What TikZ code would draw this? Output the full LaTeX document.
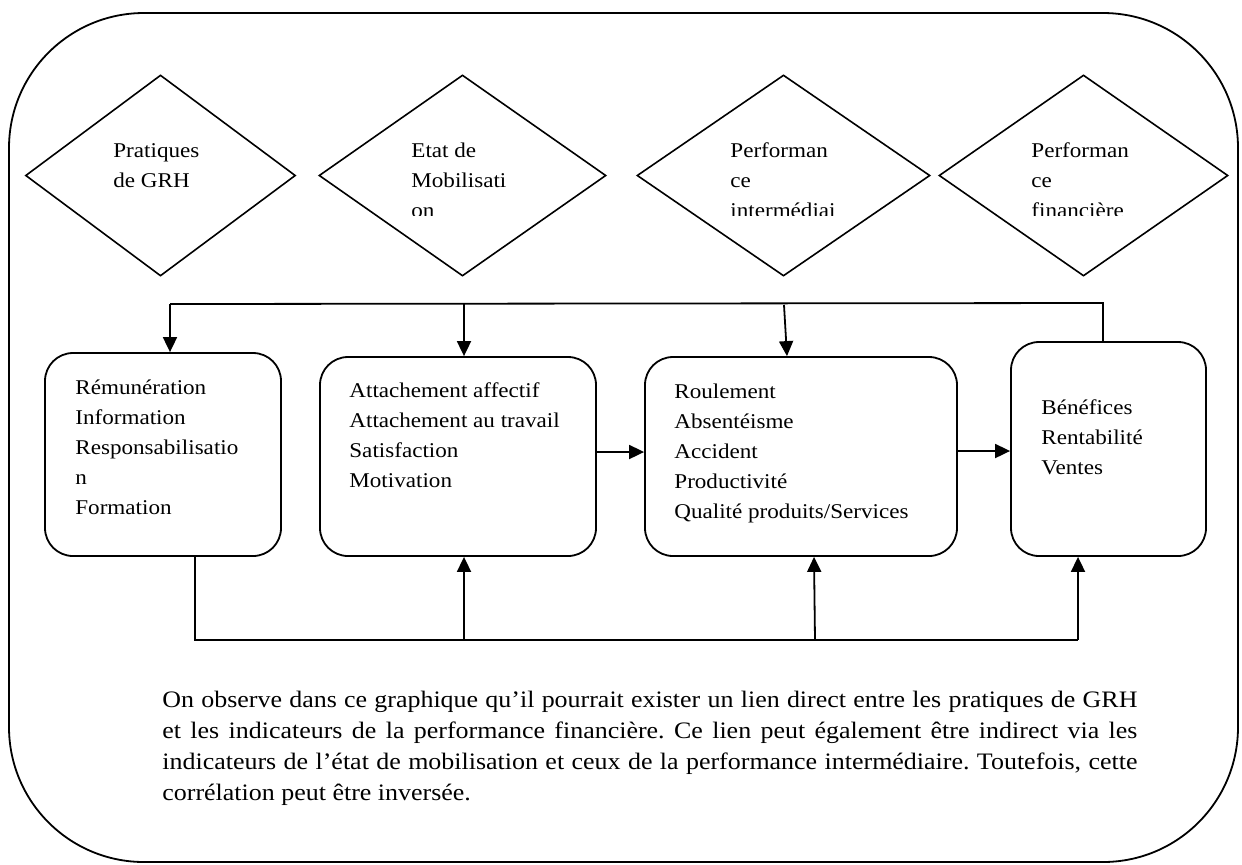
\documentclass[tikz,border=0pt]{standalone}
\usepackage{fontspec}
\setmainfont{Liberation Serif}[FakeStretch=1.1]
\usetikzlibrary{shapes.geometric,arrows.meta}
\newcommand\mylines[1]{\begin{tabular}[t]{@{}l@{}}#1\end{tabular}}
\frenchspacing
\begin{document}
\begin{tikzpicture}[x=0.5pt,y=-0.5pt,
  ln/.style={line width=0.9pt},
  dia/.style={diamond, draw, line width=0.8pt, inner sep=0pt},
  box/.style={draw, line width=0.9pt, rounded corners=14pt, inner sep=0pt},
  lbl/.style={anchor=base west, inner sep=0pt, font=\fontsize{10.5}{15}\selectfont},
  arr/.style={ln, -{Triangle[length=7.5pt,width=7pt]}},
]
\useasboundingbox (0,0) rectangle (1242,864);
\fill[white] (0,0) rectangle (1242,864);
% outer frame
\node[draw, line width=0.9pt, rounded corners=67.5pt, minimum width=614.5pt, minimum height=424.5pt, inner sep=0pt] (frame) at (623.5,437.5) {};

% diamonds
\node[dia, minimum width=135pt, minimum height=100.5pt] (d1) at (160.5,175.5) {};
\node[dia, minimum width=143.5pt, minimum height=100.5pt] (d2) at (462.5,175.5) {};
\node[dia, minimum width=146.5pt, minimum height=100.5pt] (d3) at (783.5,175.5) {};
\node[dia, minimum width=144.5pt, minimum height=100.5pt] (d4) at (1083.5,175.5) {};
\begin{scope}
\clip (0,0) rectangle (1242,215);
\node[lbl] (t1) at (113,157) {\mylines{Pratiques\\de GRH}};
\node[lbl] (t2) at (411,157) {\mylines{Etat de\\Mobilisati\\on}};
\node[lbl] (t3) at (730,157) {\mylines{Performan\\ce\\intermédiai}};
\node[lbl] (t4) at (1031,157) {\mylines{Performan\\ce\\financière}};
\end{scope}

% boxes
\node[box, minimum width=118pt, minimum height=101.5pt] (B1) at (163,454.5) {};
\node[box, minimum width=138pt, minimum height=99.5pt] (B2) at (458,456.5) {};
\node[box, minimum width=156pt, minimum height=99.5pt] (B3) at (801,456.5) {};
\node[box, minimum width=97.5pt, minimum height=107pt] (B4) at (1108.5,449) {};

\node[lbl] (bt1) at (75,394) {\mylines{Rémunération\\Information\\Responsabilisatio\\n\\Formation}};
\node[lbl] (bt2) at (349,397) {\mylines{Attachement affectif\\Attachement au travail\\Satisfaction\\Motivation}};
\node[lbl] (bt3) at (674,398) {\mylines{Roulement\\Absentéisme\\Accident\\Productivité\\Qualité produits/Services}};
\node[lbl] (bt4) at (1041,414) {\mylines{Bénéfices\\Rentabilité\\Ventes}};

% top connector
\coordinate (tl) at (170,304);
\coordinate (tr) at (1103,303);
\coordinate (tm2) at (464,303);
\coordinate (tm3) at (784,305);
\coordinate (x3) at (787,0);
\draw[ln] (B4.north -| tr) -- (tr) -- (tl);
\draw[arr] (tl) -- (tl |- B1.north);
\draw[arr] (tm2) -- (tm2 |- B2.north);
\draw[arr] (tm3) -- (x3 |- B3.north);

% bottom connector
\coordinate (bl) at (195,640);
\coordinate (br) at (1078,640);
\coordinate (bm2) at (464,640);
\coordinate (bm3) at (815,640);
\coordinate (x3b) at (814,0);
\draw[ln] (bl |- B1.south) -- (bl) -- (br);
\draw[arr] (br) -- (br |- B4.south);
\draw[arr] (bm2) -- (bm2 |- B2.south);
\draw[arr] (bm3) -- (x3b |- B3.south);

% horizontal arrows
\coordinate (h1) at (0,452);
\coordinate (h2) at (0,451);
\draw[arr] (B2.east |- h1) -- (B3.west |- h1);
\draw[arr] (B3.east |- h2) -- (B4.west |- h2);

% paragraph
\node[anchor=base west, inner sep=0pt, font=\fontsize{11.8}{15.5}\selectfont] (para) at (162,707) {\mylines{%
\makebox[487.5pt][s]{On observe dans ce graphique qu’il pourrait exister un lien direct entre les pratiques de GRH}\\
\makebox[487.5pt][s]{et les indicateurs de la performance financière. Ce lien peut également être indirect via les}\\
\makebox[487.5pt][s]{indicateurs de l’état de mobilisation et ceux de la performance intermédiaire. Toutefois, cette}\\
corrélation peut être inversée.}};
\end{tikzpicture}
\end{document}
